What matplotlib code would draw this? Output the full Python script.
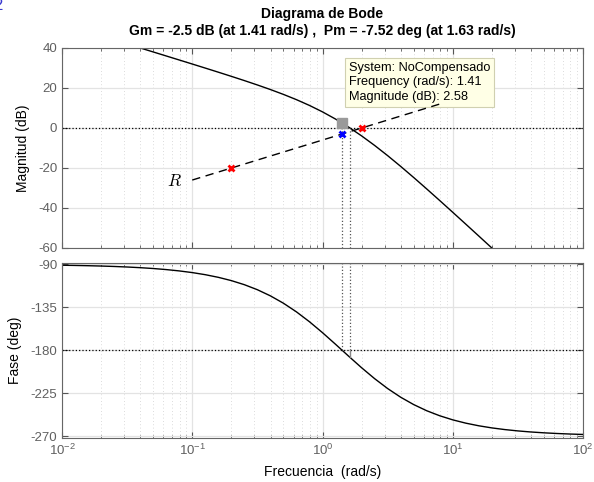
import numpy as np
import matplotlib
matplotlib.use("Agg")
import matplotlib.pyplot as plt
from matplotlib.ticker import LogLocator, NullFormatter

# frequency response (rad/s, dB, deg)
freq = [0.01, 0.01259, 0.01585, 0.01995, 0.02512, 0.03162, 0.03981, 0.05012, 0.06310, 0.07943,
        0.1, 0.1259, 0.1585, 0.1995, 0.2512, 0.3162, 0.3981, 0.5012, 0.6310, 0.7943,
        1.0, 1.259, 1.585, 1.995, 2.512, 3.162, 3.981, 5.012, 6.310, 7.943,
        10.0, 12.59, 15.85, 19.95, 25.12, 31.62, 39.81, 50.12, 63.10, 79.43, 100.0]
mag_db = [52.04, 50.04, 48.04, 46.04, 44.04, 42.04, 40.03, 38.03, 36.02, 34.01,
          31.99, 29.96, 27.91, 25.83, 23.71, 21.52, 19.23, 16.80, 14.17, 11.28,
          8.06, 4.47, 0.47, -3.93, -8.71, -13.81, -19.18, -24.75, -30.46, -36.27,
          -42.15, -48.07, -54.02, -59.99, -65.97, -71.96, -77.95, -83.95, -89.94, -95.94, -101.94]
phase_deg = [-90.86, -91.08, -91.36, -91.71, -92.16, -92.72, -93.42, -94.30, -95.42, -96.82,
             -98.57, -100.78, -103.54, -106.98, -111.26, -116.53, -122.97, -130.69, -139.76, -150.12,
             -161.57, -173.73, -186.14, -198.31, -209.76, -220.14, -229.23, -236.96, -243.41, -248.69,
             -252.98, -256.43, -259.20, -261.41, -263.17, -264.57, -265.69, -266.57, -267.28, -267.84, -268.28]

# margins
wcg, gm_db = 1.41, 2.58      # phase crossover, magnitude there
wcp, pm_deg = 1.63, -7.52    # gain crossover, phase margin

# line R (20 dB/dec) and marked points
r_freq = [0.1, 8.5]
r_db = [-26.02, 12.57]
red_freq = [0.2, 2.0]
red_db = [-20.0, 0.0]
blue_freq = [1.41]
blue_db = [-3.01]

plt.rcParams['font.family'] = ['Liberation Sans', 'DejaVu Sans']
plt.rcParams['mathtext.fontset'] = 'custom'
plt.rcParams['mathtext.rm'] = 'Liberation Sans'
plt.rcParams['axes.unicode_minus'] = False

fig = plt.figure(figsize=(5.94, 4.82), dpi=100)
L, R = 62 / 594, 583 / 594
ax1 = fig.add_axes([L, 1 - 248 / 482, R - L, 200 / 482])
ax2 = fig.add_axes([L, 1 - 438 / 482, R - L, 175.5 / 482])

tick_col = '#606060'
for ax in (ax1, ax2):
    ax.set_xscale('log')
    ax.set_xlim(1e-2, 1e2)
    ax.xaxis.set_major_locator(LogLocator(base=10, numticks=10))
    ax.xaxis.set_minor_locator(LogLocator(base=10, subs=np.arange(2, 10), numticks=20))
    ax.xaxis.set_minor_formatter(NullFormatter())
    ax.grid(True, which='major', color='#e3e3e3', lw=0.9, ls='-')
    ax.grid(True, which='minor', color='#cfcfcf', lw=0.6, ls=(0, (1, 3)))
    ax.set_axisbelow(True)
    ax.tick_params(which='both', direction='in', top=True, right=True, colors='#555555',
                   labelcolor=tick_col, labelsize=9.5)
    ax.tick_params(which='major', length=4)
    ax.tick_params(which='minor', length=2)
    for sp in ax.spines.values():
        sp.set_color('#666666')
        sp.set_linewidth(0.8)

# magnitude
ax1.plot(freq, mag_db, color='k', lw=1.0)
ax1.set_ylim(-60, 40)
ax1.set_yticks([-60, -40, -20, 0, 20, 40])
ax1.tick_params(labelbottom=False)
ax1.axhline(0, color='k', ls=':', lw=0.9)
ax1.plot([wcg, wcg], [-60, 0], color='#555555', ls=':', lw=0.9)
ax1.plot([wcp, wcp], [-60, 0], color='#555555', ls=':', lw=0.9)
ax1.plot([wcg, wcg], [0, gm_db], color='#888888', lw=1.0)
ax1.plot([wcg], [gm_db], 's', color='#9a9a9a', ms=7)
ax1.set_ylabel('Magnitud (dB)', fontsize=10, labelpad=6)

ax1.text(1.59, 33.2, 'System: NoCompensado\nFrequency (rad/s): 1.41\nMagnitude (dB): 2.58',
         fontsize=9.2, va='top', ha='left', linespacing=1.3, zorder=3,
         bbox=dict(boxstyle='square,pad=0.3', fc='#ffffe6', ec='#d0d0b0', lw=0.8))

ax1.plot(r_freq, r_db, color='k', lw=1.0, dashes=(6, 4), zorder=4)
ax1.plot(red_freq, red_db, 'x', color='red', ms=5, mew=2, zorder=5)
ax1.plot(blue_freq, blue_db, 'x', color='blue', ms=5, mew=2, zorder=5)
ax1.text(0.083, -26.3, '$R$', fontsize=12.5, ha='right', va='center', math_fontfamily='cm')

ax1.set_title('Diagrama de Bode\nGm = -2.5 dB (at 1.41 rad/s) ,  Pm = -7.52 deg (at 1.63 rad/s)',
              fontsize=10, fontweight='bold', pad=9, linespacing=1.3)

# phase
ax2.plot(freq, phase_deg, color='k', lw=1.0)
ax2.set_ylim(-272, -88)
ax2.set_yticks([-270, -225, -180, -135, -90])
ax2.axhline(-180, color='k', ls=':', lw=0.9)
ax2.plot([wcg, wcg], [-180, -88], color='#555555', ls=':', lw=0.9)
ax2.plot([wcp, wcp], [-180, -88], color='#555555', ls=':', lw=0.9)
ax2.plot([wcp, wcp], [-180, -180 + pm_deg], color='#888888', lw=1.0)
ax2.set_ylabel('Fase (deg)', fontsize=10, labelpad=6)
ax2.set_xlabel('Frecuencia  (rad/s)', fontsize=10, labelpad=5)

fig.text(2 / 594, 1 + 2 / 482, '2', ha='right', va='top', fontsize=12, color='#3a3ad0')

fig.savefig('out.png', dpi=100)
